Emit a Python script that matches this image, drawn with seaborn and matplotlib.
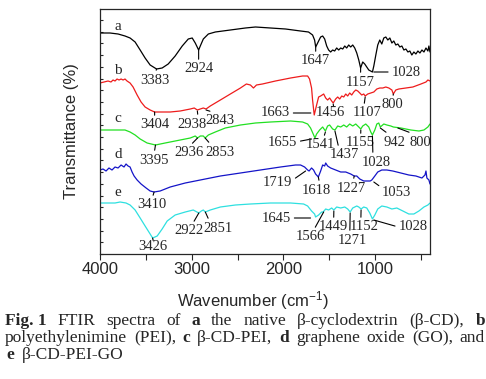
import matplotlib
matplotlib.use('Agg')
import matplotlib.pyplot as plt
from matplotlib.ticker import MultipleLocator
import pandas as pd
import seaborn as sns

sns.set_style('ticks')
plt.rcParams['font.family'] = ['Liberation Sans', 'DejaVu Sans']
plt.rcParams['mathtext.fontset'] = 'custom'
plt.rcParams['mathtext.rm'] = 'Liberation Sans'
plt.rcParams['mathtext.default'] = 'regular'
SERIF = ['Liberation Serif', 'DejaVu Serif']

# %% data (wavenumber in cm-1, transmittance in offset units)
a_wn = [4000, 3891, 3803, 3727, 3672, 3617, 3562, 3508, 3453, 3383, 3322, 3256, 3180, 3103,
        3037, 2994, 2961, 2924, 2906, 2873, 2818, 2742, 2578, 2414, 2304, 2140, 1976, 1812,
        1725, 1681, 1659, 1647, 1615, 1593, 1571, 1549, 1527, 1506, 1484, 1462, 1440, 1418,
        1396, 1374, 1352, 1330, 1309, 1287, 1265, 1243, 1221, 1199, 1177, 1157, 1134, 1112,
        1090, 1068, 1028, 1013, 991, 970, 948, 926, 904, 882, 860, 838, 816, 795, 773, 751,
        729, 707, 685, 663, 641, 620, 598, 576, 554, 532, 510, 488, 466, 444, 423, 412, 400]
a_t = [221, 221, 220, 218, 216, 212, 204, 196, 189, 185, 186, 190, 198, 208,
       215, 216, 211, 204, 208, 215, 220, 222, 224, 226, 227, 226, 225, 223,
       222, 219, 214, 207, 213, 217, 218, 215, 208, 204, 202, 204, 203, 206,
       204, 206, 205, 208, 206, 209, 207, 209, 206, 201, 194, 186, 192, 190,
       187, 184, 182, 188, 199, 209, 214, 210, 216, 217, 214, 216, 211, 213, 209, 210,
       207, 208, 204, 205, 202, 203, 199, 202, 200, 203, 201, 204, 202, 206, 203, 208, 202]

b_wn = [4000, 3956, 3912, 3880, 3858, 3836, 3814, 3792, 3770, 3748, 3727, 3705, 3672, 3639,
        3595, 3552, 3508, 3453, 3404, 3344, 3234, 3125, 3015, 2972, 2938, 2906, 2873, 2843,
        2797, 2687, 2578, 2468, 2403, 2359, 2326, 2293, 2228, 2086, 1921, 1790, 1735, 1714,
        1692, 1681, 1663, 1637, 1615, 1593, 1560, 1538, 1517, 1495, 1473, 1456, 1429, 1407,
        1385, 1363, 1341, 1319, 1298, 1276, 1254, 1232, 1210, 1188, 1166, 1145, 1123, 1107,
        1079, 1046, 1013, 980, 948, 915, 882, 849, 816, 800, 773, 740, 663, 587, 499, 444,
        423, 400]
b_t = [171, 172, 173, 172, 174, 173, 175, 174, 175, 174, 175, 173, 171, 167,
       159, 152, 147, 144, 142, 142, 142, 143, 145, 146, 144, 145, 146, 145,
       148, 154, 160, 166, 170, 169, 166, 169, 170, 173, 176, 178, 178, 175,
       166, 154, 139, 149, 157, 158, 160, 156, 154, 156, 153, 151, 155, 157,
       155, 158, 157, 160, 158, 161, 159, 162, 164, 163, 161, 159, 160, 158,
       160, 161, 162, 165, 166, 166, 167, 166, 164, 160, 164, 165, 166, 167, 170, 172,
       174, 173]

c_wn = [4000, 3836, 3727, 3672, 3617, 3562, 3486, 3395, 3289, 3125, 3015, 2961, 2936, 2906,
        2873, 2853, 2818, 2742, 2633, 2468, 2304, 2140, 1921, 1790, 1735, 1703, 1655, 1637,
        1604, 1571, 1541, 1517, 1495, 1462, 1437, 1407, 1374, 1341, 1309, 1276, 1243, 1210,
        1177, 1155, 1134, 1101, 1068, 1046, 1028, 1002, 980, 959, 942, 904, 871, 827, 800,
        718, 609, 521, 466, 423, 400]
c_t = [124, 124, 124, 122, 119, 115, 111, 109, 111, 114, 116, 118, 116, 118,
       118, 116, 119, 122, 126, 129, 131, 132, 133, 132, 130, 126, 116, 120,
       124, 127, 123, 128, 129, 125, 124, 128, 127, 129, 127, 130, 128, 130,
       127, 125, 128, 130, 127, 122, 119, 124, 130, 131, 127, 130, 129, 128, 127,
       126, 124, 123, 124, 127, 130]

d_wn = [4000, 3967, 3934, 3902, 3869, 3836, 3803, 3770, 3738, 3716, 3694, 3672, 3650, 3628,
        3595, 3552, 3497, 3453, 3410, 3344, 3234, 3070, 2906, 2687, 2468, 2250, 2031, 1867,
        1812, 1768, 1735, 1719, 1692, 1670, 1648, 1618, 1593, 1571, 1549, 1538, 1517, 1484,
        1429, 1374, 1319, 1265, 1227, 1199, 1166, 1123, 1053, 1035, 1002, 970, 926, 871,
        806, 718, 631, 554, 488, 455, 444, 434, 412, 400]
d_t = [84, 85, 83, 86, 84, 87, 86, 89, 87, 90, 88, 87, 82, 78,
       74, 70, 66, 63, 62, 63, 67, 71, 74, 78, 81, 84, 87, 89,
       89, 87, 84, 83, 86, 84, 80, 77, 83, 89, 88, 91, 88, 86,
       84, 82, 82, 80, 78, 78, 75, 73, 73, 74, 78, 82, 84, 84,
       83, 81, 79, 78, 76, 79, 83, 76, 74, 70]

e_wn = [4000, 3836, 3781, 3716, 3672, 3617, 3562, 3508, 3453, 3426, 3376, 3322, 3267, 3180,
        3070, 2983, 2922, 2895, 2873, 2851, 2797, 2687, 2523, 2359, 2140, 1921, 1779, 1735,
        1692, 1659, 1648, 1615, 1582, 1566, 1538, 1506, 1473, 1449, 1418, 1374, 1330, 1298,
        1271, 1243, 1199, 1177, 1152, 1123, 1090, 1057, 1028, 1002, 970, 926, 871, 816, 762,
        696, 631, 576, 521, 466, 423, 400]
e_t = [51, 51, 52, 51, 49, 44, 36, 28, 20, 16, 18, 25, 33, 39,
       42, 44, 41, 43, 44, 42, 44, 47, 49, 50, 51, 51, 50, 48,
       43, 40, 37, 39, 42, 42, 45, 44, 46, 44, 47, 46, 47, 45,
       42, 46, 48, 47, 45, 47, 46, 41, 35, 39, 45, 48, 47, 45, 46,
       43, 40, 40, 43, 47, 49, 51]

samples = ['a', 'b', 'c', 'd', 'e']
colors = ['#000000', '#ee1c1c', '#22e022', '#1414c8', '#2ee0e0']

# peak labels: (text, peak wn, peak T, label wn, label T, relpos)
peaks = [
    ('3383', 3383, 185, 3398, 174, (0.5, 1)), ('2924', 2924, 204, 2924, 185, (0.5, 1)),
    ('1647', 1647, 207, 1647, 193, (0.5, 1)), ('1157', 1157, 186, 1157, 172, (0.5, 1)),
    ('1028', 1013, 182, 663, 182, (0, 0.5)),
    ('3404', 3404, 142, 3404, 129, (0.5, 1)), ('2938', 2938, 143, 2994, 130, (0.7, 1)),
    ('2843', 2843, 144, 2687, 133, (0.5, 1)), ('1663', 1700, 141, 2086, 141, (1, 0.5)),
    ('1456', 1456, 150, 1484, 141, (0.6, 1)), ('1107', 1107, 157, 1090, 141, (0.4, 1)),
    ('800', 800, 160, 806, 149, (0.5, 1)),
    ('3395', 3395, 109, 3409, 94, (0.5, 1)), ('2936', 2936, 116, 3026, 101, (0.5, 1)),
    ('2853', 2853, 116, 2687, 102, (0.2, 1)), ('1655', 1692, 115, 2009, 111, (1, 0.6)),
    ('1541', 1541, 122, 1595, 109, (0.6, 1)), ('1437', 1437, 123, 1330, 99, (0.3, 1)),
    ('1155', 1155, 124, 1156, 111, (0.5, 1)), ('1028', 1028, 118, 991, 92, (0.4, 1)),
    ('942', 942, 126, 784, 112, (0.3, 1)), ('800', 751, 126, 510, 112, (0.4, 1)),
    ('3410', 3410, 62, 3431, 49, (0.5, 1)), ('1719', 1757, 83, 2064, 71, (1, 0.7)),
    ('1618', 1618, 77, 1637, 64, (0.6, 1)), ('1227', 1227, 78, 1254, 66, (0.55, 1)),
    ('1053', 1013, 72, 762, 61, (0.05, 0.8)),
    ('3426', 3426, 16, 3420, 7, (0.5, 1)), ('2922', 2922, 41, 3026, 23, (0.6, 1)),
    ('2851', 2851, 42, 2709, 26, (0.2, 1)), ('1645', 1703, 36, 2075, 36, (1, 0.5)),
    ('1566', 1560, 42, 1703, 17, (0.6, 1)), ('1449', 1449, 43, 1451, 27, (0.5, 1)),
    ('1271', 1271, 41, 1243, 14, (0.4, 1)), ('1152', 1152, 44, 1123, 27, (0.4, 1)),
    ('1028', 1013, 34, 587, 27, (0, 0.5)),
]
letter_t = [227, 184, 136, 99, 62]

# %% plot
wns = [a_wn, b_wn, c_wn, d_wn, e_wn]
ts = [a_t, b_t, c_t, d_t, e_t]
df = pd.concat([pd.DataFrame({'wn': w, 'T': t, 'sample': s})
                for w, t, s in zip(wns, ts, samples)], ignore_index=True)

fig = plt.figure(figsize=(4.86, 3.79), dpi=100)
ax = fig.add_axes([100 / 486, 1 - 254 / 379, 330 / 486, 245 / 379])
sns.lineplot(data=df, x='wn', y='T', hue='sample', palette=colors, estimator=None,
             sort=False, lw=0.9, legend=False, ax=ax)

ax.set_xlim(4000, 400)
ax.set_ylim(0, 245)
ax.xaxis.set_major_locator(MultipleLocator(1000))
ax.xaxis.set_minor_locator(MultipleLocator(500))
ax.yaxis.set_major_locator(MultipleLocator(11.7))
ax.tick_params(axis='x', which='both', direction='out', length=4, width=0.8,
               labelsize=12, pad=2)
ax.tick_params(axis='y', which='both', direction='in', length=2.5, width=0.8,
               labelleft=False)
for sp in ax.spines.values():
    sp.set_linewidth(0.9)
ax.set_xlabel('Wavenumber (cm$^{-1}$)', fontsize=12)
ax.xaxis.set_label_coords(153 / 330, -35 / 245)
ax.set_ylabel('Transmittance (%)', fontsize=12)
ax.yaxis.set_label_coords(-21 / 330, 0.5)

for lab, t in zip(samples, letter_t):
    ax.text(3803, t, lab, family=SERIF, fontsize=11, ha='center', va='center')

for txt, x, y, tx, ty, rp in peaks:
    ax.annotate(txt, xy=(x, y), xytext=(tx, ty), family=SERIF, fontsize=10.5,
                ha='center', va='center',
                arrowprops=dict(arrowstyle='-', lw=0.8, color='black',
                                shrinkA=0, shrinkB=0, relpos=rp))

# %% caption, justified like the journal
W = 486
rend = fig.canvas.get_renderer()


def caption_line(tokens, ybase, x0, x1=None, gap=None):
    texts = [fig.text(0, 1 - ybase / 379, w, family=SERIF, fontsize=12.5,
                      fontweight='bold' if b else 'normal', va='baseline')
             for w, b in tokens]
    widths = [t.get_window_extent(rend).width for t in texts]
    if gap is None:
        gap = (x1 - x0 - sum(widths)) / (len(texts) - 1)
    x = x0
    for t, w in zip(texts, widths):
        t.set_x(x / W)
        x += w + gap


caption_line([('Fig. 1', True), ('FTIR', False), ('spectra', False), ('of', False),
              ('a', True), ('the', False), ('native', False), ('β-cyclodextrin', False),
              ('(β-CD),', False), ('b', True)], 325, 5, 485)
caption_line([('polyethylenimine', False), ('(PEI),', False), ('c', True),
              ('β-CD-PEI,', False), ('d', True), ('graphene', False), ('oxide', False),
              ('(GO),', False), ('and', False)], 342, 5, 485)
caption_line([('e', True), ('β-CD-PEI-GO', False)], 359, 6, gap=8)

plt.savefig('out.png', dpi=100)
